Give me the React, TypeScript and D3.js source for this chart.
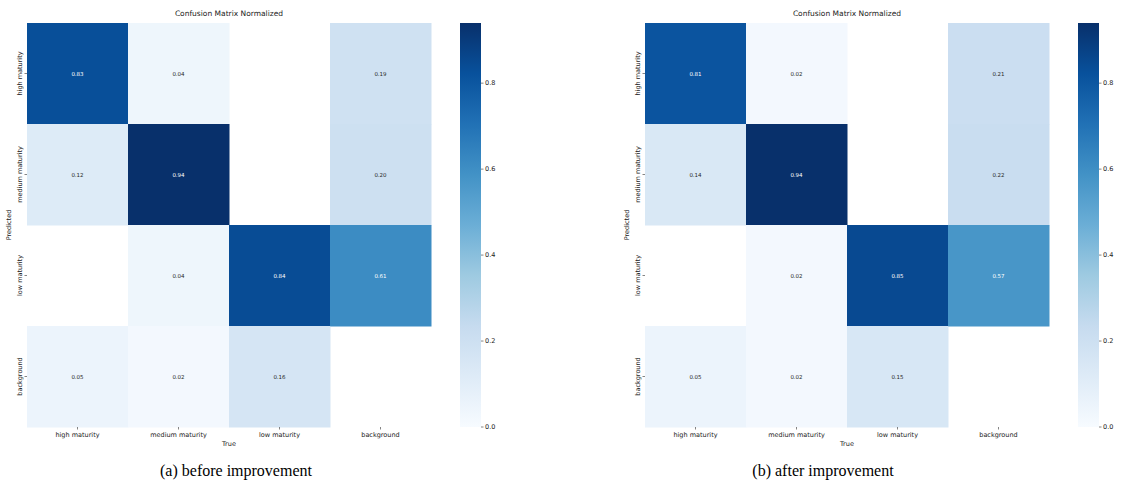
import React from "react";
import * as d3 from "d3";

const categories = ["high maturity", "medium maturity", "low maturity", "background"];
const beforeValues: (number | null)[][] = [
  [0.83, 0.04, null, 0.19],
  [0.12, 0.94, null, 0.2],
  [null, 0.04, 0.84, 0.61],
  [0.05, 0.02, 0.16, null],
];
const afterValues: (number | null)[][] = [
  [0.81, 0.02, null, 0.21],
  [0.14, 0.94, null, 0.22],
  [null, 0.02, 0.85, 0.57],
  [0.05, 0.02, 0.15, null],
];
const colorbarTicks = [0.0, 0.2, 0.4, 0.6, 0.8];
const captions = ["(a) before improvement", "(b) after improvement"];
const chartTitle = "Confusion Matrix Normalized";

// matplotlib "Blues" anchor colours (piecewise linear)
const bluesAnchors = ["#f7fbff", "#deebf7", "#c6dbef", "#9ecae1", "#6baed6", "#4292c6", "#2171b5", "#08519c", "#08306b"];
const blues = d3
  .scaleLinear<string>()
  .domain(d3.range(bluesAnchors.length).map((i) => i / (bluesAnchors.length - 1)))
  .range(bluesAnchors)
  .interpolate(d3.interpolateRgb)
  .clamp(true);

const FONT = "DejaVu Sans, sans-serif";

function luminance(c: string) {
  const rgb = d3.rgb(c);
  const f = (v: number) => {
    v = v / 255;
    return v <= 0.03928 ? v / 12.92 : Math.pow((v + 0.055) / 1.055, 2.4);
  };
  return 0.2126 * f(rgb.r) + 0.7152 * f(rgb.g) + 0.0722 * f(rgb.b);
}

function Panel({ values, x0, caption, captionX, id }: { values: (number | null)[][]; x0: number; caption: string; captionX: number; id: string }) {
  const top = 23;
  const size = 404;
  const x = d3.scaleBand<string>().domain(categories).range([x0, x0 + size]);
  const y = d3.scaleBand<string>().domain(categories).range([top, top + size]);
  const flat = values.flat().filter((v): v is number => v !== null);
  const vmax = d3.max(flat) as number;
  const norm = d3.scaleLinear().domain([0, vmax]).range([0, 1]);
  const color = (v: number) => blues(norm(v));
  const cbX = x0 + 433;
  const cbW = 21;
  const cbScale = d3.scaleLinear().domain([0, vmax]).range([top + size, top]);
  const stops = d3.range(0, 1.0001, 0.125);
  const cx = x0 + size / 2;
  return (
    <g>
      <defs>
        <linearGradient id={id} x1="0" y1="1" x2="0" y2="0">
          {stops.map((s) => (
            <stop key={s} offset={s} stopColor={blues(s)} />
          ))}
        </linearGradient>
      </defs>
      <text x={cx} y={16} textAnchor="middle" fontSize={7.5} fontFamily={FONT} fill="#222">
        {chartTitle}
      </text>
      {values.map((row, i) =>
        row.map((v, j) => {
          if (v === null) return null;
          const fill = color(v);
          const tc = luminance(fill) > 0.408 ? "#262626" : "#ffffff";
          return (
            <g key={`${i}-${j}`}>
              <rect x={x(categories[j])} y={y(categories[i])} width={x.bandwidth() + 0.5} height={y.bandwidth() + 0.5} fill={fill} />
              <text
                x={(x(categories[j]) as number) + x.bandwidth() / 2}
                y={(y(categories[i]) as number) + y.bandwidth() / 2 + 2}
                textAnchor="middle"
                fontSize={5.5}
                fontFamily={FONT}
                fill={tc}
              >
                {v.toFixed(2)}
              </text>
            </g>
          );
        })
      )}
      {categories.map((c) => {
        const px = (x(c) as number) + x.bandwidth() / 2;
        return (
          <g key={"xt" + c}>
            <line x1={px} x2={px} y1={top + size} y2={top + size + 2.5} stroke="#333" strokeWidth={0.6} />
            <text x={px} y={top + size + 10} textAnchor="middle" fontSize={6.5} fontFamily={FONT} fill="#222">
              {c}
            </text>
          </g>
        );
      })}
      {categories.map((c) => {
        const py = (y(c) as number) + y.bandwidth() / 2;
        return (
          <g key={"yt" + c}>
            <line x1={x0 - 2.5} x2={x0} y1={py} y2={py} stroke="#333" strokeWidth={0.6} />
            <text transform={`translate(${x0 - 5},${py}) rotate(-90)`} textAnchor="middle" fontSize={6.5} fontFamily={FONT} fill="#222">
              {c}
            </text>
          </g>
        );
      })}
      <text x={cx} y={top + size + 19} textAnchor="middle" fontSize={6.5} fontFamily={FONT} fill="#222">
        True
      </text>
      <text transform={`translate(${x0 - 16},${top + size / 2}) rotate(-90)`} textAnchor="middle" fontSize={6.5} fontFamily={FONT} fill="#222">
        Predicted
      </text>
      <rect x={cbX} y={top} width={cbW} height={size} fill={`url(#${id})`} />
      {colorbarTicks.map((t) => (
        <g key={"cb" + t}>
          <line x1={cbX + cbW} x2={cbX + cbW + 2.5} y1={cbScale(t)} y2={cbScale(t)} stroke="#333" strokeWidth={0.6} />
          <text x={cbX + cbW + 4} y={cbScale(t) + 2.2} fontSize={6.5} fontFamily={FONT} fill="#222">
            {t.toFixed(1)}
          </text>
        </g>
      ))}
      <text x={captionX} y={476} textAnchor="middle" fontSize={16} fontFamily="Liberation Serif, Times New Roman, serif" fill="#000">
        {caption}
      </text>
    </g>
  );
}

export default function App() {
  return (
    <div style={{ position: "absolute", left: 0, top: 0 }}>
      <svg width={1126} height={488} style={{ display: "block", background: "#fff" }}>
        <rect width={1126} height={488} fill="#fff" />
        <Panel values={beforeValues} x0={27} caption={captions[0]} captionX={236} id="cbA" />
        <Panel values={afterValues} x0={645} caption={captions[1]} captionX={823} id="cbB" />
      </svg>
    </div>
  );
}
